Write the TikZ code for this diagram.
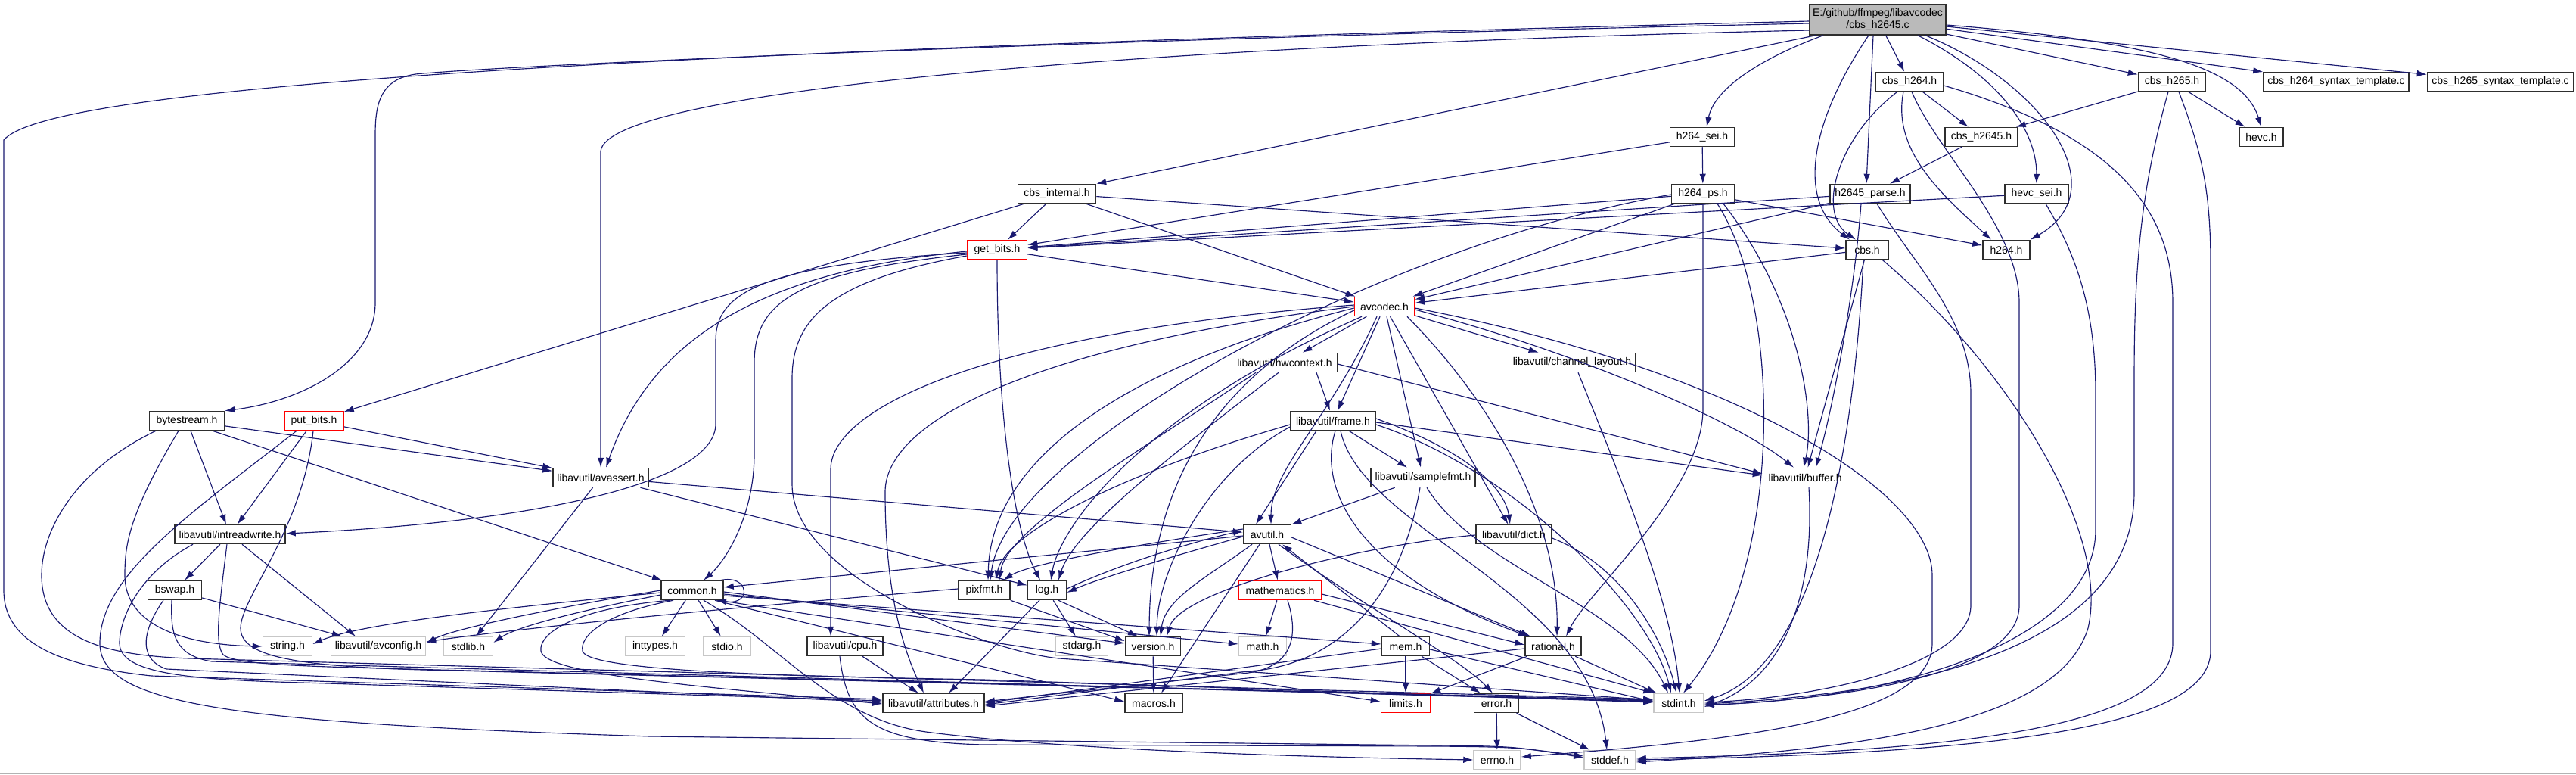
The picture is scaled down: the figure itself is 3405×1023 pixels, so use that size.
\documentclass[tikz,border=0pt]{standalone}
\usepackage{fontspec}
\setmainfont{Liberation Sans}
\usetikzlibrary{arrows.meta}
\definecolor{edgeblue}{HTML}{191970}
\tikzset{
 nd/.style={draw=black!82, line width=1.5pt, fill=white, minimum height=25pt, inner sep=1pt, font=\fontsize{14}{15.5}\selectfont},
 rednd/.style={nd, draw=red},
 sysnd/.style={nd, draw=black!22},
 rootnd/.style={nd, fill=black!27, minimum height=40pt, align=center},
 e/.style={-{Latex[length=13pt,width=8.5pt]}, draw=edgeblue, line width=1.15pt},
}
\begin{document}
\begin{tikzpicture}[x=1pt,y=-1pt]
\useasboundingbox (0,0) rectangle (3405,1023);
\draw[black!30, line width=1.5pt] (0,1022) -- (3405,1022);
% nodes
\node[rootnd, minimum width=180pt] (root) at (2482,26) {E:/github/ffmpeg/libavcodec\\/cbs\_h2645.c};
\node[nd, minimum width=89pt] (cbsh264) at (2524,108) {cbs\_h264.h};
\node[nd, minimum width=89pt] (cbsh265) at (2871,108) {cbs\_h265.h};
\node[nd, minimum width=192pt] (tmplA) at (3088,108) {cbs\_h264\_syntax\_template.c};
\node[nd, minimum width=193pt] (tmplB) at (3305,108) {cbs\_h265\_syntax\_template.c};
\node[nd, minimum width=58pt] (hevc) at (2989,181) {hevc.h};
\node[nd, minimum width=96pt] (cbsh2645) at (2619,181) {cbs\_h2645.h};
\node[nd, minimum width=85pt] (h264sei) at (2250,181) {h264\_sei.h};
\node[nd, minimum width=83pt] (h264ps) at (2251,256) {h264\_ps.h};
\node[nd, minimum width=106pt] (h2645) at (2472,256) {h2645\_parse.h};
\node[nd, minimum width=84pt] (hevcsei) at (2692,256) {hevc\_sei.h};
\node[nd, minimum width=103pt] (cbsint) at (1397,256) {cbs\_internal.h};
\node[rednd, minimum width=79pt] (getbits) at (1318,330) {get\_bits.h};
\node[nd, minimum width=56pt] (cbs) at (2468,330) {cbs.h};
\node[nd, minimum width=62pt] (h264) at (2652,330) {h264.h};
\node[rednd, minimum width=79pt] (avcodec) at (1830,405) {avcodec.h};
\node[nd, minimum width=139pt] (hwctx) at (1698,479) {libavutil/hwcontext.h};
\node[nd, minimum width=167pt] (chlayout) at (2078,479) {libavutil/channel\_layout.h};
\node[nd, minimum width=99pt] (bytestream) at (247,556) {bytestream.h};
\node[rednd, minimum width=78pt] (putbits) at (415,556) {put\_bits.h};
\node[nd, minimum width=112pt] (frame) at (1762,556) {libavutil/frame.h};
\node[nd, minimum width=126pt] (avassert) at (794,631) {libavutil/avassert.h};
\node[nd, minimum width=138pt] (samplefmt) at (1881,631) {libavutil/samplefmt.h};
\node[nd, minimum width=111pt] (buffer) at (2386,631) {libavutil/buffer.h};
\node[nd, minimum width=146pt] (intrw) at (304,706) {libavutil/intreadwrite.h};
\node[nd, minimum width=63pt] (avutil) at (1675,706) {avutil.h};
\node[nd, minimum width=100pt] (dict) at (2001,706) {libavutil/dict.h};
\node[nd, minimum width=71pt] (bswap) at (231,780) {bswap.h};
\node[nd, minimum width=82pt] (common) at (915,780) {common.h};
\node[nd, minimum width=68pt] (pixfmt) at (1301,780) {pixfmt.h};
\node[nd, minimum width=51pt] (logh) at (1384,780) {log.h};
\node[rednd, minimum width=109pt] (mathem) at (1692,780) {mathematics.h};
\node[sysnd, minimum width=65pt] (stringh) at (380,854) {string.h};
\node[sysnd, minimum width=125pt] (avconfig) at (500,854) {libavutil/avconfig.h};
\node[sysnd, minimum width=65pt] (stdlib) at (619,854) {stdlib.h};
\node[sysnd, minimum width=79pt] (inttypes) at (866,854) {inttypes.h};
\node[sysnd, minimum width=62pt] (stdio) at (961,854) {stdio.h};
\node[nd, minimum width=100pt] (cpu) at (1117,854) {libavutil/cpu.h};
\node[sysnd, minimum width=69pt] (stdarg) at (1430,854) {stdarg.h};
\node[nd, minimum width=73pt] (version) at (1524,854) {version.h};
\node[sysnd, minimum width=63pt] (mathh) at (1669,854) {math.h};
\node[nd, minimum width=63pt] (mem) at (1858,854) {mem.h};
\node[nd, minimum width=74pt] (rational) at (2053,854) {rational.h};
\node[nd, minimum width=134pt] (attributes) at (1234,929) {libavutil/attributes.h};
\node[nd, minimum width=76pt] (macros) at (1525,929) {macros.h};
\node[rednd, minimum width=65pt] (limits) at (1858,929) {limits.h};
\node[nd, minimum width=59pt] (errorh) at (1978,929) {error.h};
\node[sysnd, minimum width=66pt] (stdint) at (2219,929) {stdint.h};
\node[sysnd, minimum width=62pt] (errno) at (1979,1004) {errno.h};
\node[sysnd, minimum width=68pt] (stddef) at (2128,1004) {stddef.h};

% root
\draw[e] (root) -- (cbsh264);
\draw[e] (root) -- (cbsh265);
\draw[e] (root) -- (tmplA);
\draw[e] (root) -- (tmplB);
\draw[e] ([yshift=-7pt]root.east) .. controls (2850,55) and (2965,90) .. (hevc.north);
\draw[e] ([xshift=63pt]root.south) .. controls (2700,110) and (2800,250) .. (h264.north east);
\draw[e] ([xshift=53pt]root.south) .. controls (2640,100) and (2692,170) .. (hevcsei.north);
\draw[e] ([xshift=-6pt]root.south) -- ([xshift=-5pt]h2645.north);
\draw[e] ([xshift=-12pt]root.south) .. controls (2400,150) and (2370,260) .. ([xshift=-23pt]cbs.north);
\draw[e] ([xshift=-72pt]root.south) .. controls (2320,80) and (2265,120) .. ([xshift=6pt]h264sei.north);
\draw[e] ([xshift=-82pt]root.south) -- (cbsint.north east);
\draw[e] ([yshift=-14pt]root.west) .. controls (1500,60) and (800,120) .. (794,200) -- (avassert.north);
\draw[e] ([yshift=-5pt]root.west) .. controls (1500,50) and (700,85) .. (560,97) .. controls (500,100) and (496,140) .. (496,180) -- (496,400) .. controls (496,480) and (400,530) .. (bytestream.north east);
\draw[e] ([yshift=-2pt]root.west) .. controls (700,70) and (60,120) .. (5,185) -- (5,780) .. controls (5,850) and (80,880) .. (200,893) -- ([yshift=5pt]attributes.west);
% cbs_h264.h
\draw[e] (cbsh264) -- (cbsh2645);
\draw[e] ([xshift=-16pt]cbsh264.south) .. controls (2430,180) and (2400,280) .. ([xshift=-15pt]cbs.north);
\draw[e] ([xshift=-8pt]cbsh264.south) .. controls (2500,200) and (2570,260) .. ([xshift=-20pt]h264.north);
\draw[e] ([xshift=3pt]cbsh264.south) .. controls (2560,200) and (2669,300) .. (2669,400) -- (2669,800) .. controls (2669,890) and (2450,922) .. ([yshift=-3pt]stdint.east);
\draw[e] ([yshift=-5pt]cbsh264.east) .. controls (2800,180) and (2872,280) .. (2872,400) -- (2872,850) .. controls (2872,960) and (2600,993) .. ([yshift=2pt]stddef.east);
% cbs_h265.h
\draw[e] (cbsh265) -- (cbsh2645);
\draw[e] (cbsh265) -- (hevc);
\draw[e] ([xshift=-5pt]cbsh265.south) .. controls (2830,250) and (2821,350) .. (2821,500) -- (2821,650) .. controls (2821,850) and (2550,915) .. ([yshift=-1pt]stdint.east);
\draw[e] ([xshift=9pt]cbsh265.south) .. controls (2910,200) and (2922,250) .. (2922,350) -- (2922,860) .. controls (2922,960) and (2650,995) .. ([yshift=0pt]stddef.east);
\draw[e] (cbsh2645) -- (h2645);
% h264_sei.h
\draw[e] (h264sei) -- (h264ps);
\draw[e] (h264sei) -- (getbits);
% h264_ps.h
\draw[e] (h264ps) -- (getbits);
\draw[e] (h264ps) -- (avcodec);
\draw[e] (h264ps) -- (h264);
\draw[e] ([yshift=-1pt]h264ps.west) .. controls (1800,330) and (1330,600) .. ([xshift=8pt]pixfmt.north);
\draw[e] (h264ps.south) -- (2251,540) .. controls (2251,650) and (2100,780) .. ([xshift=17pt]rational.north);
\draw[e] ([xshift=19pt]h264ps.south) .. controls (2355,400) and (2360,750) .. ([xshift=6pt]stdint.north);
\draw[e] ([xshift=27pt]h264ps.south) .. controls (2380,400) and (2400,550) .. ([xshift=-2pt]buffer.north);
% h2645_parse.h
\draw[e] (h2645) -- (getbits);
\draw[e] (h2645) -- (avcodec);
\draw[e] ([xshift=-12pt]h2645.south) .. controls (2450,400) and (2420,550) .. ([xshift=14pt]buffer.north);
\draw[e] ([xshift=9pt]h2645.south) .. controls (2530,350) and (2605,420) .. (2605,520) -- (2605,800) .. controls (2605,880) and (2400,922) .. ([yshift=1pt]stdint.east);
% hevc_sei.h
\draw[e] (hevcsei) -- (getbits);
\draw[e] ([xshift=12pt]hevcsei.south) .. controls (2740,330) and (2770,400) .. (2770,520) -- (2770,700) .. controls (2770,850) and (2500,925) .. ([yshift=-2pt]stdint.east);
% cbs_internal.h
\draw[e] (cbsint) -- (getbits);
\draw[e] (cbsint) -- (putbits);
\draw[e] (cbsint) -- (cbs);
\draw[e] (cbsint) -- (avcodec);
% get_bits.h
\draw[e] (getbits) -- (avcodec);
\draw[e] ([yshift=-2pt]getbits.west) .. controls (1000,360) and (860,450) .. ([xshift=7pt]avassert.north);
\draw[e] ([yshift=-4pt]getbits.west) .. controls (1000,350) and (946,390) .. (946,450) -- (946,560) .. controls (946,640) and (700,690) .. ([yshift=1pt]intrw.east);
\draw[e] ([yshift=-6pt]getbits.west) .. controls (1050,360) and (997,400) .. (997,480) -- (997,600) .. controls (997,680) and (960,740) .. ([xshift=15pt]common.north);
\draw[e] ([yshift=-8pt]getbits.west) .. controls (1100,370) and (1047,420) .. (1047,500) -- (1047,640) .. controls (1047,760) and (1300,860) .. (1400,870) -- ([yshift=4pt]stdint.west);
\draw[e] (getbits.south) .. controls (1318,550) and (1340,700) .. ([xshift=-9pt]logh.north);
% put_bits.h
\draw[e] (putbits) -- (intrw);
\draw[e] (putbits) -- (avassert);
\draw[e] ([xshift=-1pt]putbits.south) .. controls (400,700) and (318,790) .. (318,830) .. controls (318,870) and (400,882) .. (600,886) -- ([yshift=3pt]stdint.west);
\draw[e] ([xshift=-23pt]putbits.south) .. controls (250,680) and (132,760) .. (132,850) .. controls (132,930) and (300,955) .. (860,973) -- (1900,985) .. controls (2000,986) .. ([yshift=3pt]stddef.west);
% bytestream.h
\draw[e] (bytestream) -- (intrw);
\draw[e] (bytestream) -- (avassert);
\draw[e] ([xshift=34pt]bytestream.south) -- ([xshift=-40pt]common.north);
\draw[e] ([xshift=-11pt]bytestream.south) .. controls (170,680) and (165,720) .. (165,760) .. controls (165,830) and (250,852) .. (stringh.west);
\draw[e] ([xshift=-41pt]bytestream.south) .. controls (100,620) and (55,700) .. (55,760) .. controls (55,850) and (150,866) .. (250,870) -- ([yshift=5pt]stdint.west);
% intreadwrite.h
\draw[e] (intrw) -- (bswap);
\draw[e] ([xshift=16pt]intrw.south) -- ([xshift=-30pt]avconfig.north);
\draw[e] ([xshift=-49pt]intrw.south) .. controls (180,760) and (158,820) .. (158,850) .. controls (158,890) and (250,898) .. (400,902) -- ([yshift=3pt]attributes.west);
\draw[e] ([xshift=-4pt]intrw.south) .. controls (290,800) and (283,850) .. (295,865) .. controls (310,878) and (400,880) .. (500,883) -- ([yshift=4pt]stdint.west);
% bswap.h
\draw[e] (bswap) -- (avconfig);
\draw[e] ([xshift=-15pt]bswap.south) .. controls (190,830) and (180,870) .. (220,884) -- ([yshift=1pt]attributes.west);
\draw[e] ([xshift=-4pt]bswap.south) .. controls (225,840) and (232,866) .. (280,874) -- ([yshift=2pt]stdint.west);
% avassert.h
\draw[e] (avassert) -- (stdlib);
\draw[e] (avassert) -- (avutil);
\draw[e] (avassert) -- (logh);
% common.h
\draw[e] ([xshift=37pt]common.north) .. controls (990,758) and (995,800) .. ([xshift=32pt]common.south);
\draw[e] ([yshift=-3pt]common.west) .. controls (700,800) and (480,822) .. ([yshift=3pt]stringh.east);
\draw[e] (common.west) .. controls (750,800) and (600,830) .. ([yshift=4pt]avconfig.east);
\draw[e] ([yshift=-6pt]common.west) .. controls (750,810) and (680,830) .. ([yshift=5pt]stdlib.east);
\draw[e] (common) -- (inttypes);
\draw[e] (common) -- (stdio);
\draw[e] ([yshift=-2pt]common.east) -- ([yshift=4pt]version.west);
\draw[e] ([yshift=-5pt]common.east) -- ([yshift=3pt]mathh.west);
\draw[e] ([yshift=-7pt]common.east) -- ([yshift=3pt]mem.west);
\draw[e] ([xshift=30pt]common.south) -- ([yshift=2pt]macros.west);
\draw[e] ([xshift=35pt]common.south) -- ([yshift=2pt]limits.west);
\draw[e] ([xshift=15pt]common.south) .. controls (1030,850) and (1100,950) .. (1224,967) .. controls (1400,990) and (1700,1000) .. (errno.west);
\draw[e] ([xshift=-30pt]common.south) .. controls (750,805) and (712,840) .. (715,860) .. controls (720,890) and (900,905) .. ([yshift=-1pt]attributes.west);
\draw[e] ([xshift=-25pt]common.south) .. controls (800,810) and (766,840) .. (770,860) .. controls (775,885) and (1000,893) .. (1300,898) -- ([yshift=1pt]stdint.west);
% avutil.h
\draw[e] ([yshift=-2pt]avutil.west) -- ([yshift=4pt]common.east);
\draw[e] ([xshift=-20pt]avutil.south) .. controls (1600,760) and (1540,790) .. ([xshift=10pt]version.north);
\draw[e] (avutil) -- (mathem);
\draw[e] ([xshift=-10pt]avutil.south) -- ([xshift=10pt]macros.north);
\draw[e] ([yshift=-3pt]avutil.west) .. controls (1550,735) and (1450,765) .. ([yshift=-3pt]logh.east);
\draw[e] ([yshift=2pt]logh.east) .. controls (1480,745) and (1580,715) .. ([yshift=5pt]avutil.west);
\draw[e] ([yshift=7pt]avutil.west) .. controls (1500,720) and (1360,745) .. ([xshift=25pt]pixfmt.north);
\draw[e] ([yshift=-4pt]avutil.east) -- ([xshift=-30pt]rational.north);
\draw[e] ([xshift=15pt]avutil.south) .. controls (1800,800) and (1930,870) .. ([xshift=-5pt]errorh.north);
% log.h
\draw[e] (logh) -- (stdarg);
\draw[e] ([xshift=15pt]logh.south) -- ([xshift=-20pt]version.north);
\draw[e] ([xshift=-10pt]logh.south) -- ([xshift=20pt]attributes.north);
% pixfmt.h
\draw[e] (pixfmt.south east) -- ([yshift=7pt]version.west);
\draw[e] ([yshift=2pt]pixfmt.west) .. controls (1000,800) and (700,828) .. ([yshift=6pt]avconfig.east);
% mathematics.h
\draw[e] (mathem) -- (mathh);
\draw[e] ([yshift=-5pt]mathem.east) -- ([yshift=2pt]rational.west);
\draw[e] ([xshift=45pt]mathem.south) -- (stdint.north west);
\draw[e] ([xshift=10pt]mathem.south) .. controls (1720,850) and (1700,882) .. (1650,889) -- ([yshift=2pt]attributes.east);
% mem.h
\draw[e] ([xshift=-8pt]mem.north) -- ([xshift=20pt]avutil.south);
\draw[e] (mem) -- (limits);
\draw[e] (mem) -- (errorh);
\draw[e] ([yshift=-4pt]mem.east) -- ([yshift=2pt]stdint.west);
\draw[e] ([yshift=-3pt]mem.west) -- (attributes.east);
% rational.h
\draw[e] (rational) -- (limits);
\draw[e] (rational) -- (stdint);
\draw[e] ([yshift=-3pt]rational.west) -- ([yshift=-4pt]attributes.east);
% error.h
\draw[e] (errorh) -- (errno);
\draw[e] (errorh) -- (stddef);
\draw[e] (version) -- (macros);
% cpu.h
\draw[e] ([xshift=23pt]cpu.south) -- ([xshift=-20pt]attributes.north);
\draw[e] ([xshift=-7pt]cpu.south) .. controls (1120,950) and (1150,980) .. (1300,984) -- (1900,986) .. controls (2000,987) .. ([yshift=5pt]stddef.west);
% dict.h
\draw[e] ([yshift=-5pt]dict.east) .. controls (2150,750) and (2200,850) .. ([xshift=-3pt]stdint.north);
\draw[e] ([yshift=-1pt]dict.west) .. controls (1800,720) and (1560,780) .. ([xshift=18pt]version.north);
% frame.h
\draw[e] (frame) -- (samplefmt);
\draw[e] ([xshift=-22pt]frame.south) -- ([xshift=-15pt]avutil.north);
\draw[e] ([yshift=-2pt]frame.east) -- ([yshift=3pt]buffer.west);
\draw[e] ([yshift=3pt]frame.east) .. controls (1950,600) and (1990,650) .. ([xshift=-5pt]dict.north);
\draw[e] ([xshift=3pt]frame.south) .. controls (1740,650) and (1800,760) .. ([xshift=-33pt]rational.north);
\draw[e] ([yshift=-5pt]frame.east) .. controls (2000,620) and (2180,800) .. ([xshift=-10pt]stdint.north);
\draw[e] ([xshift=10pt]frame.south) .. controls (1800,700) and (2100,780) .. ([xshift=-4pt]stddef.north);
\draw[e] ([yshift=-5pt]frame.west) .. controls (1500,620) and (1330,700) .. ([xshift=15pt]pixfmt.north);
\draw[e] ([yshift=-8pt]frame.west) .. controls (1600,620) and (1530,750) .. ([xshift=5pt]version.north);
% samplefmt.h
\draw[e] (samplefmt) -- (avutil.north east);
\draw[e] ([xshift=-4pt]samplefmt.south) .. controls (1850,800) and (1760,880) .. (1650,887) -- ([yshift=-2pt]attributes.east);
\draw[e] ([xshift=5pt]samplefmt.south) .. controls (1950,750) and (2150,800) .. ([xshift=-14pt]stdint.north);
% buffer / channel_layout
\draw[e] ([xshift=5pt]buffer.south) .. controls (2400,800) and (2350,900) .. ([yshift=-5pt]stdint.east);
\draw[e] ([xshift=8pt]chlayout.south) .. controls (2150,650) and (2210,800) .. ([xshift=1pt]stdint.north);
% hwcontext.h
\draw[e] ([yshift=-2pt]hwctx.east) -- ([yshift=5pt]buffer.west);
\draw[e] ([xshift=42pt]hwctx.south) -- ([xshift=-4pt]frame.north);
\draw[e] ([xshift=-38pt]hwctx.south) .. controls (1500,600) and (1330,700) .. ([xshift=20pt]pixfmt.north);
\draw[e] ([xshift=-8pt]hwctx.south) .. controls (1550,600) and (1420,700) .. ([xshift=15pt]logh.north);
% avcodec.h
\draw[e] (avcodec) -- (hwctx);
\draw[e] (avcodec) -- (chlayout);
\draw[e] (avcodec) -- (frame);
\draw[e] (avcodec) -- (samplefmt);
\draw[e] (avcodec) -- (dict);
\draw[e] ([yshift=-4pt]avcodec.east) .. controls (2100,470) and (2300,560) .. ([xshift=-15pt]buffer.north);
\draw[e] ([xshift=30pt]avcodec.south) .. controls (1990,550) and (2060,700) .. ([xshift=5pt]rational.north);
\draw[e] ([yshift=-2pt]avcodec.east) .. controls (2300,490) and (2554,650) .. (2554,760) -- (2554,850) .. controls (2554,950) and (2300,978) .. ([yshift=4pt]errno.east);
\draw[e] ([yshift=2pt]avcodec.west) .. controls (1300,440) and (1098,540) .. (1098,620) -- ([xshift=-19pt]cpu.north);
\draw[e] (avcodec.west) .. controls (1350,460) and (1170,560) .. (1170,650) .. controls (1170,800) and (1200,870) .. ([xshift=-13pt]attributes.north);
\draw[e] ([xshift=-10pt]avcodec.south) .. controls (1760,550) and (1680,620) .. ([xshift=5pt]avutil.north);
\draw[e] ([yshift=-2pt]avcodec.west) .. controls (1500,480) and (1310,600) .. ([xshift=5pt]pixfmt.north);
\draw[e] ([xshift=-30pt]avcodec.south) .. controls (1500,550) and (1400,700) .. ([xshift=5pt]logh.north);
\draw[e] ([yshift=-5pt]avcodec.west) .. controls (1600,500) and (1520,650) .. ([xshift=-5pt]version.north);
% cbs.h
\draw[e] (cbs) -- (avcodec);
\draw[e] (cbs) -- (buffer);
\draw[e] ([xshift=-5pt]cbs.south) .. controls (2450,600) and (2400,880) .. ([yshift=3pt]stdint.east);
\draw[e] ([xshift=20pt]cbs.south) .. controls (2650,480) and (2790,700) .. (2760,830) .. controls (2720,960) and (2450,990) .. ([yshift=-3pt]stddef.east);
\end{tikzpicture}
\end{document}
